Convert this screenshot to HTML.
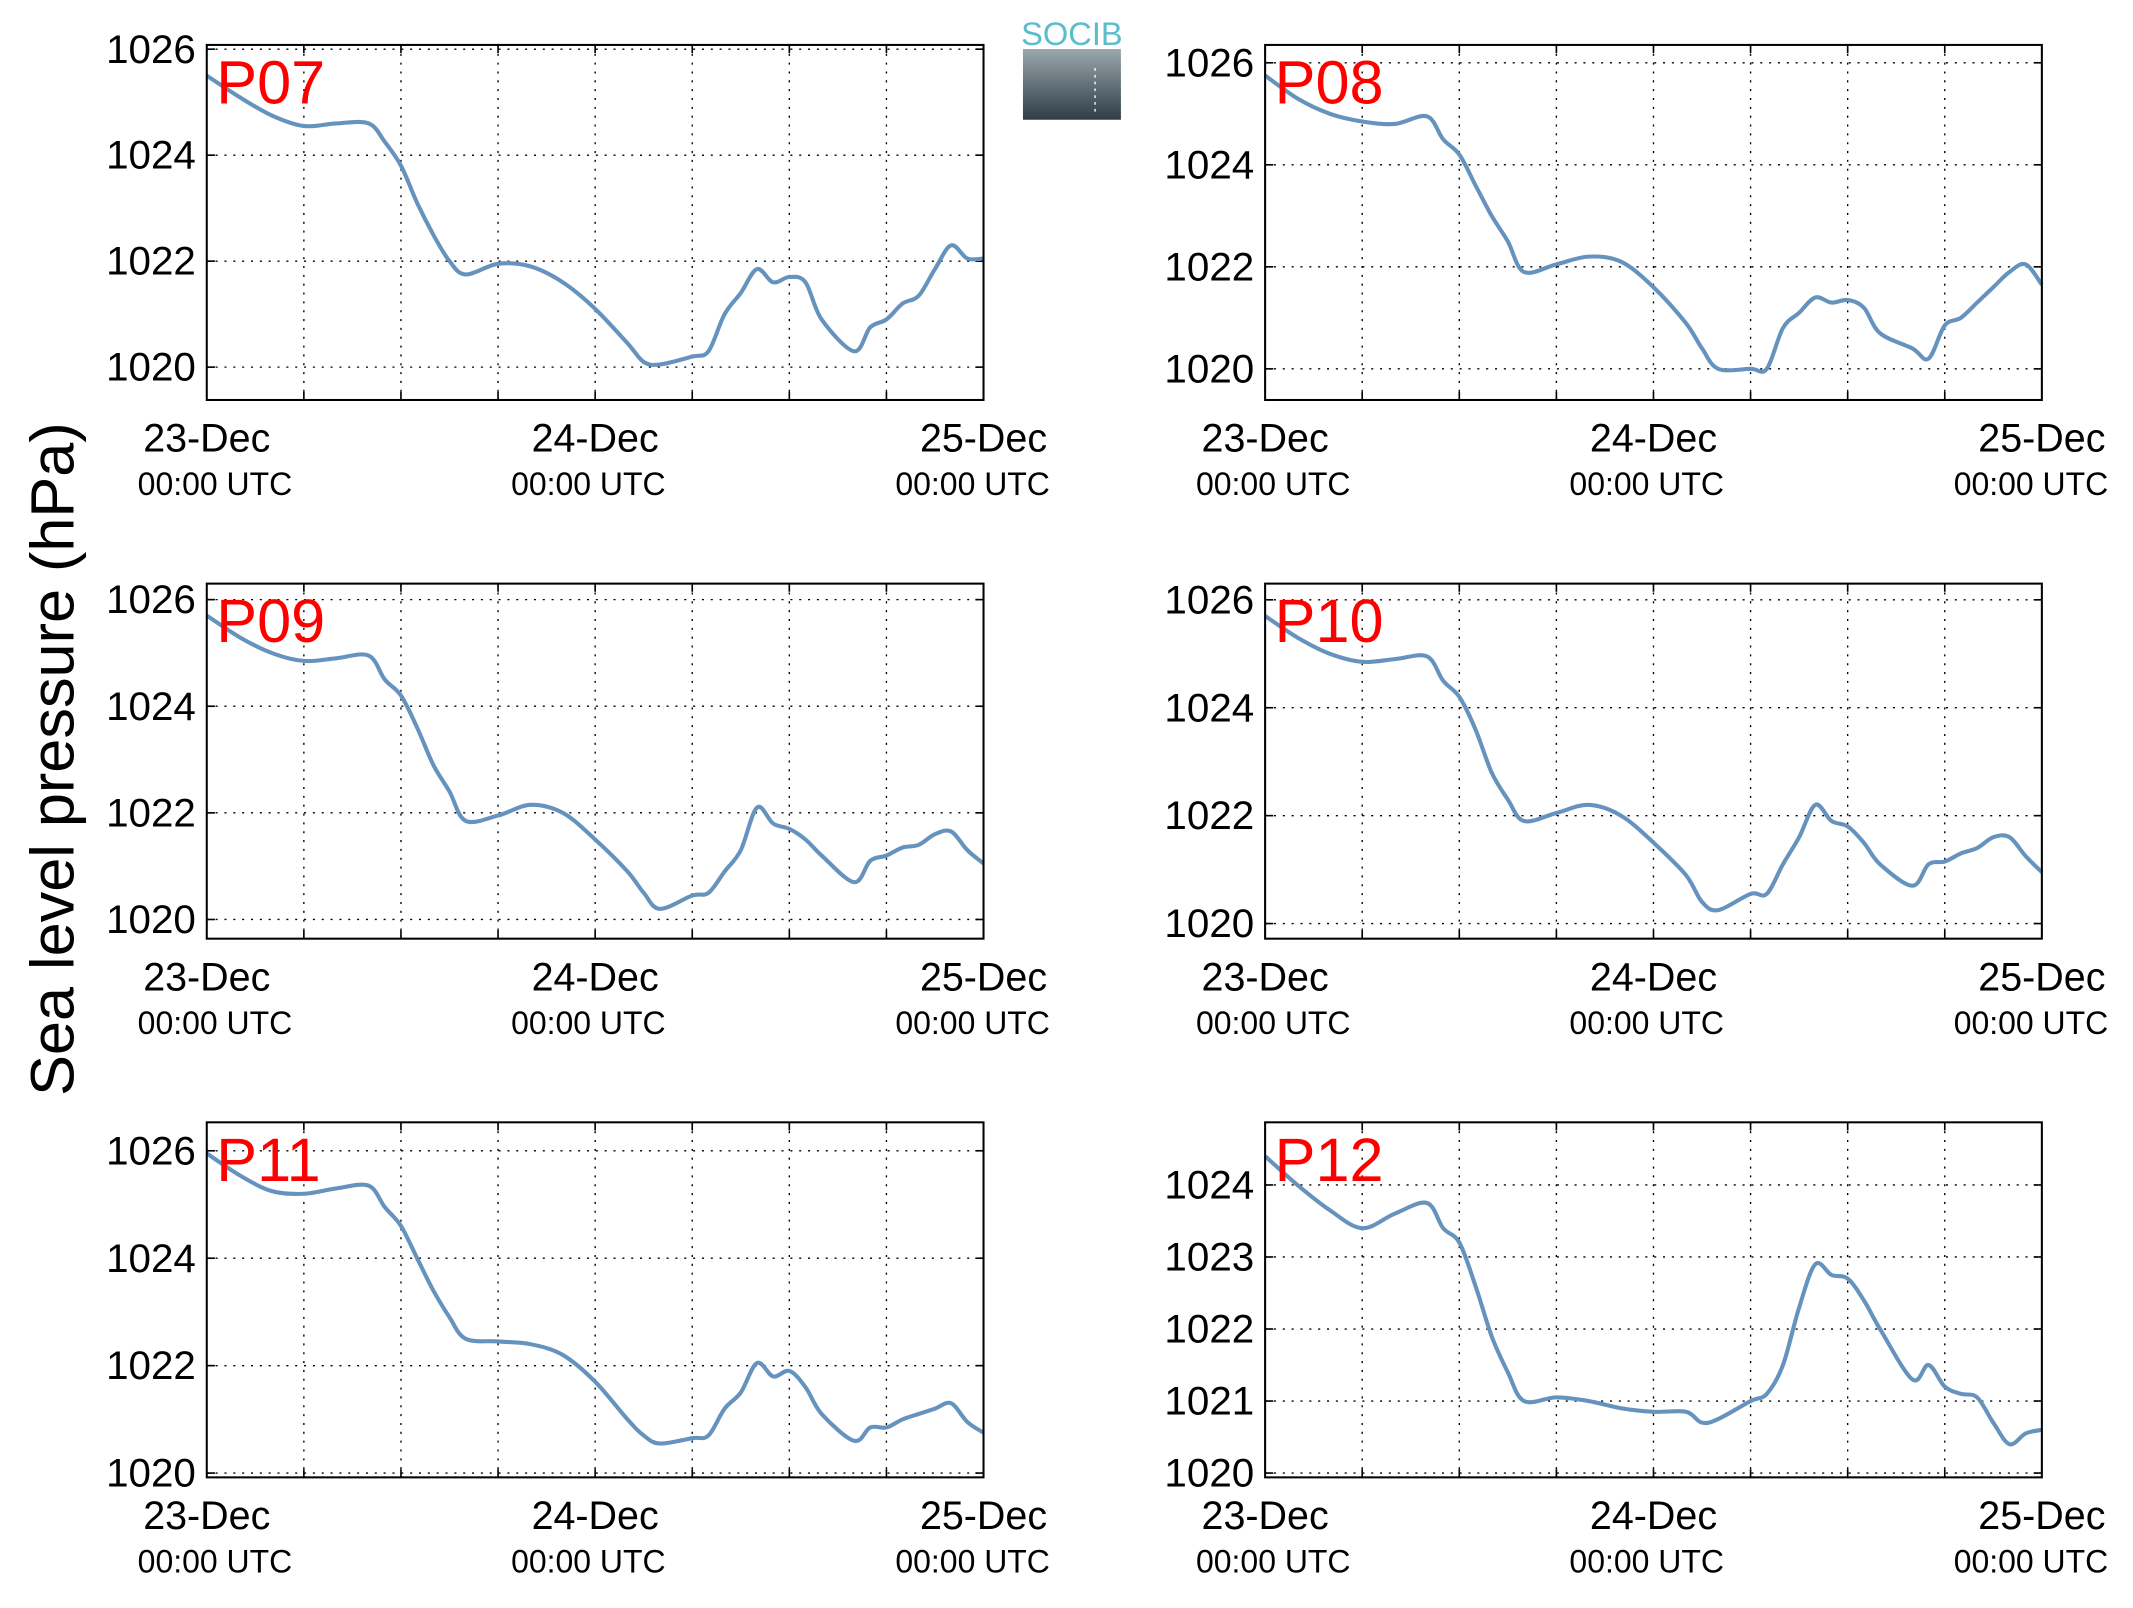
<!DOCTYPE html>
<html><head><meta charset="utf-8"><style>html,body{margin:0;padding:0;background:#fff}svg{display:block}</style></head>
<body>
<svg id="fig" xmlns="http://www.w3.org/2000/svg" width="2133" height="1608" viewBox="0 0 1568 1182" font-family="'Liberation Sans', sans-serif">
<rect width="1568" height="1182" fill="#fff"/>
<text x="0" y="0" transform="translate(54,558) rotate(-90)" text-anchor="middle" font-size="45">Sea level pressure (hPa)</text>
<g>
<defs><linearGradient id="lg" x1="0" y1="0" x2="0" y2="1"><stop offset="0" stop-color="#9aa7ad"/><stop offset="1" stop-color="#2e3d46"/></linearGradient></defs>
<rect x="752" y="36" width="72" height="52" fill="url(#lg)"/>
<text x="788" y="33" text-anchor="middle" font-size="24" fill="#5bbccc">SOCIB</text>
<line x1="805" y1="50" x2="805" y2="82" stroke="#fff" stroke-dasharray="2,3"/>
</g>
</svg>
<script>
const hours=[0,2,4,6,8,10,11,12,13,14,15,16,18,20,22,24,26,27,28,30,31,32,33,34,35,36,37,38,40,41,42,43,44,45,46,47,48];
const p07=[1025.5,1025.1,1024.75,1024.55,1024.6,1024.6,1024.25,1023.8,1023.1,1022.5,1022.0,1021.75,1021.95,1021.9,1021.6,1021.1,1020.45,1020.1,1020.05,1020.2,1020.3,1021.0,1021.4,1021.85,1021.6,1021.7,1021.6,1020.9,1020.3,1020.75,1020.9,1021.2,1021.35,1021.85,1022.3,1022.05,1022.05];
const p08=[1025.75,1025.3,1025.0,1024.85,1024.8,1024.95,1024.5,1024.2,1023.6,1023.0,1022.5,1021.9,1022.05,1022.2,1022.1,1021.6,1020.9,1020.4,1020.0,1020.0,1020.0,1020.8,1021.1,1021.4,1021.3,1021.35,1021.2,1020.7,1020.4,1020.2,1020.85,1021.0,1021.3,1021.6,1021.9,1022.05,1021.65];
const p09=[1025.7,1025.3,1025.0,1024.85,1024.9,1024.95,1024.5,1024.2,1023.6,1022.9,1022.4,1021.85,1021.95,1022.15,1022.0,1021.5,1020.9,1020.5,1020.2,1020.45,1020.5,1020.9,1021.3,1022.1,1021.8,1021.7,1021.5,1021.2,1020.7,1021.1,1021.2,1021.35,1021.4,1021.6,1021.65,1021.3,1021.05];
const p10=[1025.7,1025.3,1025.0,1024.85,1024.9,1024.95,1024.5,1024.2,1023.6,1022.8,1022.3,1021.9,1022.05,1022.2,1022.0,1021.5,1020.9,1020.4,1020.25,1020.55,1020.55,1021.1,1021.6,1022.2,1021.9,1021.8,1021.5,1021.1,1020.7,1021.1,1021.15,1021.3,1021.4,1021.6,1021.6,1021.25,1020.95];
const p11=[1025.95,1025.55,1025.25,1025.2,1025.3,1025.35,1024.95,1024.6,1024.0,1023.4,1022.9,1022.5,1022.45,1022.4,1022.2,1021.7,1021.0,1020.7,1020.55,1020.65,1020.7,1021.2,1021.5,1022.05,1021.8,1021.9,1021.6,1021.1,1020.6,1020.85,1020.85,1021.0,1021.1,1021.2,1021.3,1020.95,1020.75];
const p12=[1024.4,1024.0,1023.65,1023.4,1023.6,1023.75,1023.4,1023.2,1022.6,1021.9,1021.4,1021.0,1021.05,1021.0,1020.9,1020.85,1020.85,1020.7,1020.75,1021.0,1021.1,1021.5,1022.3,1022.9,1022.75,1022.7,1022.4,1022.0,1021.3,1021.5,1021.2,1021.1,1021.05,1020.7,1020.4,1020.55,1020.6];
const names=["P07","P08","P09","P10","P11","P12"];
const yTicksA=[1020,1022,1024,1026];
const yTicksB=[1020,1021,1022,1023,1024];
const xDates=["23-Dec","24-Dec","25-Dec"];
const series=[p07,p08,p09,p10,p11,p12];
const ranges=[[1019.38,1026.08],[1019.39,1026.35],[1019.64,1026.3],[1019.72,1026.3],[1019.92,1026.53],[1019.94,1024.87]];
const timeOff=[6,-5,-8];
const NS="http://www.w3.org/2000/svg";
const svg=document.getElementById('fig');
function mk(tag,attrs,parent){const e=document.createElementNS(NS,tag);for(const k in attrs)e.setAttribute(k,attrs[k]);parent.appendChild(e);return e;}
function smooth(p){let d='M'+p[0][0].toFixed(1)+','+p[0][1].toFixed(1);
  for(let i=0;i<p.length-1;i++){const a=p[i-1]||p[i],b=p[i],c=p[i+1],e=p[i+2]||c;
    const c1=[b[0]+(c[0]-a[0])/6,b[1]+(c[1]-a[1])/6],c2=[c[0]-(e[0]-b[0])/6,c[1]-(e[1]-b[1])/6];
    d+=' C'+c1[0].toFixed(1)+','+c1[1].toFixed(1)+' '+c2[0].toFixed(1)+','+c2[1].toFixed(1)+' '+c[0].toFixed(1)+','+c[1].toFixed(1);}
  return d;}
for(let i=0;i<6;i++){
  const L=i%2?930:152, R=L+571, T=[33,429,825][Math.floor(i/2)], B=T+261;
  const [lo,hi]=ranges[i];
  const sx=h=>L+(h/48)*(R-L);
  const sy=v=>B-(v-lo)/(hi-lo)*(B-T);
  const g=mk('g',{},svg);
  
  
  const yt=i===5?yTicksB:yTicksA;
  for(let h=6;h<48;h+=6){
    const gl=mk('line',{x1:sx(h),x2:sx(h),y1:T,y2:B,stroke:'#000','stroke-width':1,'stroke-dasharray':'1.5,5'},g);
    
    
    mk('line',{x1:sx(h),x2:sx(h),y1:B,y2:B-6,stroke:'#000','stroke-width':1.2},g);
    mk('line',{x1:sx(h),x2:sx(h),y1:T,y2:T+6,stroke:'#000','stroke-width':1.2},g);
  }
  yt.forEach(v=>{
    const y=sy(v);
    const gl=mk('line',{x1:L,x2:R,y1:y,y2:y,stroke:'#000','stroke-width':1,'stroke-dasharray':'1.5,5'},g);
    
    
    mk('line',{x1:L,x2:L+6,y1:y,y2:y,stroke:'#000','stroke-width':1.2},g);
    mk('line',{x1:R,x2:R-6,y1:y,y2:y,stroke:'#000','stroke-width':1.2},g);
    const t=mk('text',{x:L-8,y:y+10,'text-anchor':'end','font-size':29,'textLength':66,'lengthAdjust':'spacingAndGlyphs'},g);
    t.textContent=v;
    
    
  });
  xDates.forEach((d,j)=>{
    const x=sx(j*24);
    const t=mk('text',{x:x,y:B+38,'text-anchor':'middle','font-size':29},g);
    t.textContent=d;
    
    
    const t2=mk('text',{x:x+timeOff[j],y:B+70,'text-anchor':'middle','font-size':23.5},g);
    t2.textContent='00:00 UTC';
    
    
  });
  const pts=hours.map((h,k)=>[sx(h),sy(series[i][k])]);
  const pl=mk('path',{d:smooth(pts),fill:'none',stroke:'#6693bd','stroke-width':3,'stroke-linejoin':'round'},g);
  
  
  const fr=mk('rect',{x:L,y:T,width:R-L,height:B-T,fill:'none',stroke:'#000','stroke-width':1.5},g);
  
  
  const lb=mk('text',{x:L+7,y:T+43,'font-size':45,fill:'#ff0000'},g);
  lb.textContent=names[i];
  
  
}
</script>
</body></html>
